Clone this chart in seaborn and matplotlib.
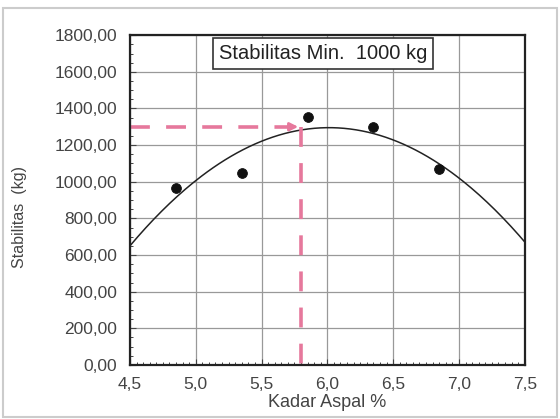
import numpy as np
import pandas as pd
import matplotlib
matplotlib.use('Agg')
import matplotlib.pyplot as plt
from matplotlib.ticker import FuncFormatter, MultipleLocator
import seaborn as sns

# Data
kadar_aspal = [4.85, 5.35, 5.85, 6.35, 6.85]
stabilitas = [965, 1047, 1355, 1298, 1069]
opt_kadar = 5.8
opt_stab = 1300

sns.set_style('white')
plt.rcParams['font.family'] = ['Liberation Sans', 'DejaVu Sans']

df = pd.DataFrame({'x': kadar_aspal, 'y': stabilitas})

fig = plt.figure(figsize=(5.6, 4.19), dpi=100)
ax = fig.add_axes([0.232, 0.129, 0.705, 0.787])

# 2nd order polynomial trendline
coef = np.polyfit(df['x'], df['y'], 2)
xs = np.linspace(4.5, 7.5, 200)
sns.lineplot(x=xs, y=np.polyval(coef, xs), ax=ax, color='#222222', linewidth=1.1)
sns.scatterplot(data=df, x='x', y='y', ax=ax, color='#111111', s=50, edgecolor='#111111', zorder=5)

# optimum guide lines
pink = '#e6789c'
ax.plot([4.5, opt_kadar - 0.08], [opt_stab, opt_stab], color=pink, lw=2.6, dashes=(5.5, 4.5))
ax.annotate('', xy=(opt_kadar, opt_stab), xytext=(opt_kadar - 0.12, opt_stab),
            arrowprops=dict(arrowstyle='-|>', color=pink, lw=2, mutation_scale=12))
ax.plot([opt_kadar, opt_kadar], [opt_stab, 0], color=pink, lw=2.6, dashes=(5.5, 4.5))

ax.set_xlim(4.5, 7.5)
ax.set_ylim(0, 1800)
ax.xaxis.set_major_locator(MultipleLocator(0.5))
ax.xaxis.set_minor_locator(MultipleLocator(0.05))
ax.yaxis.set_major_locator(MultipleLocator(200))
ax.yaxis.set_minor_locator(MultipleLocator(50))
ax.xaxis.set_major_formatter(FuncFormatter(lambda v, p: f'{v:.1f}'.replace('.', ',')))
ax.yaxis.set_major_formatter(FuncFormatter(lambda v, p: f'{v:.2f}'.replace('.', ',')))
ax.grid(True, which='major', color='#999999', linewidth=0.9)
ax.tick_params(axis='both', which='major', labelsize=12.5, colors='#444444', length=4, direction='in', pad=9)
ax.tick_params(axis='both', which='minor', length=2.5, direction='in')
ax.tick_params(bottom=True, left=True, which='both')
for s in ax.spines.values():
    s.set_color('#222222')
    s.set_linewidth(1.6)

ax.set_xlabel('Kadar Aspal %', fontsize=13, color='#444444', labelpad=1)
ax.set_ylabel('Stabilitas  (kg)', fontsize=11.5, color='#444444', labelpad=14)
ax.yaxis.set_label_coords(-0.26, 0.45)

ax.text(0.225, 0.945, 'Stabilitas Min.  1000 kg', transform=ax.transAxes, fontsize=14.5,
        va='center', ha='left', color='#222222', zorder=10,
        bbox=dict(boxstyle='square,pad=0.3', facecolor='white', edgecolor='#333333', linewidth=1.2))

# outer frame
fig.patches.append(plt.Rectangle((0.005, 0.005), 0.99, 0.975, transform=fig.transFigure,
                                 fill=False, edgecolor='#cccccc', linewidth=1.5))

plt.savefig('out.png', dpi=100)
plt.close()
